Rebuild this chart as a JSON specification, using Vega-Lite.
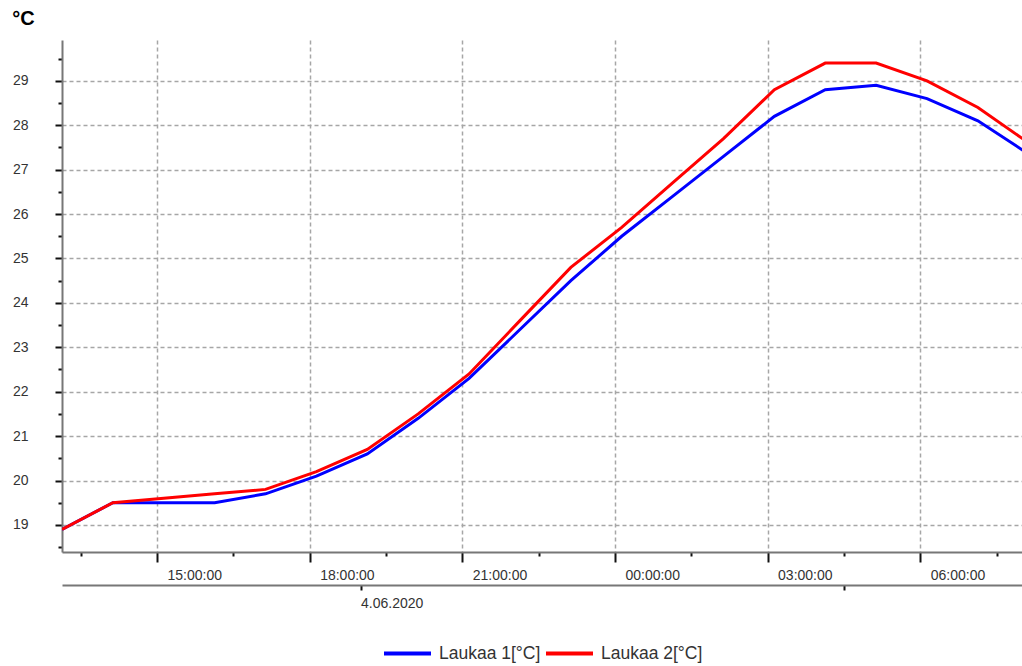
{
  "$schema": "https://vega.github.io/schema/vega-lite/v6.json",
  "width": 960,
  "height": 512,
  "autosize": {"type": "none"},
  "padding": {"left": 62, "top": 40, "right": 0, "bottom": 114},
  "background": "white",
  "config": {
    "view": {"stroke": null},
    "font": "Liberation Sans",
    "axisY": {"tickSize": 32, "labelPadding": 2, "labelAlign": "right"},
    "axisLeft": {"tickSize": 32, "labelPadding": 2, "labelAlign": "right"}
  },
  "data": {"values": [
    {"time": "2020-06-04T13:08:00", "series": "Laukaa 1[°C]", "value": 18.9},
    {"time": "2020-06-04T14:08:00", "series": "Laukaa 1[°C]", "value": 19.5},
    {"time": "2020-06-04T15:08:00", "series": "Laukaa 1[°C]", "value": 19.5},
    {"time": "2020-06-04T16:08:00", "series": "Laukaa 1[°C]", "value": 19.5},
    {"time": "2020-06-04T17:08:00", "series": "Laukaa 1[°C]", "value": 19.7},
    {"time": "2020-06-04T18:08:00", "series": "Laukaa 1[°C]", "value": 20.1},
    {"time": "2020-06-04T19:08:00", "series": "Laukaa 1[°C]", "value": 20.6},
    {"time": "2020-06-04T20:08:00", "series": "Laukaa 1[°C]", "value": 21.4},
    {"time": "2020-06-04T21:08:00", "series": "Laukaa 1[°C]", "value": 22.3},
    {"time": "2020-06-04T22:08:00", "series": "Laukaa 1[°C]", "value": 23.4},
    {"time": "2020-06-04T23:08:00", "series": "Laukaa 1[°C]", "value": 24.5},
    {"time": "2020-06-05T00:08:00", "series": "Laukaa 1[°C]", "value": 25.5},
    {"time": "2020-06-05T01:08:00", "series": "Laukaa 1[°C]", "value": 26.4},
    {"time": "2020-06-05T02:08:00", "series": "Laukaa 1[°C]", "value": 27.3},
    {"time": "2020-06-05T03:08:00", "series": "Laukaa 1[°C]", "value": 28.2},
    {"time": "2020-06-05T04:08:00", "series": "Laukaa 1[°C]", "value": 28.8},
    {"time": "2020-06-05T05:08:00", "series": "Laukaa 1[°C]", "value": 28.9},
    {"time": "2020-06-05T06:08:00", "series": "Laukaa 1[°C]", "value": 28.6},
    {"time": "2020-06-05T07:08:00", "series": "Laukaa 1[°C]", "value": 28.1},
    {"time": "2020-06-05T08:08:00", "series": "Laukaa 1[°C]", "value": 27.35},
    {"time": "2020-06-04T13:08:00", "series": "Laukaa 2[°C]", "value": 18.9},
    {"time": "2020-06-04T14:08:00", "series": "Laukaa 2[°C]", "value": 19.5},
    {"time": "2020-06-04T15:08:00", "series": "Laukaa 2[°C]", "value": 19.6},
    {"time": "2020-06-04T16:08:00", "series": "Laukaa 2[°C]", "value": 19.7},
    {"time": "2020-06-04T17:08:00", "series": "Laukaa 2[°C]", "value": 19.8},
    {"time": "2020-06-04T18:08:00", "series": "Laukaa 2[°C]", "value": 20.2},
    {"time": "2020-06-04T19:08:00", "series": "Laukaa 2[°C]", "value": 20.7},
    {"time": "2020-06-04T20:08:00", "series": "Laukaa 2[°C]", "value": 21.5},
    {"time": "2020-06-04T21:08:00", "series": "Laukaa 2[°C]", "value": 22.4},
    {"time": "2020-06-04T22:08:00", "series": "Laukaa 2[°C]", "value": 23.6},
    {"time": "2020-06-04T23:08:00", "series": "Laukaa 2[°C]", "value": 24.8},
    {"time": "2020-06-05T00:08:00", "series": "Laukaa 2[°C]", "value": 25.7},
    {"time": "2020-06-05T01:08:00", "series": "Laukaa 2[°C]", "value": 26.7},
    {"time": "2020-06-05T02:08:00", "series": "Laukaa 2[°C]", "value": 27.7},
    {"time": "2020-06-05T03:08:00", "series": "Laukaa 2[°C]", "value": 28.8},
    {"time": "2020-06-05T04:08:00", "series": "Laukaa 2[°C]", "value": 29.4},
    {"time": "2020-06-05T05:08:00", "series": "Laukaa 2[°C]", "value": 29.4},
    {"time": "2020-06-05T06:08:00", "series": "Laukaa 2[°C]", "value": 29.0},
    {"time": "2020-06-05T07:08:00", "series": "Laukaa 2[°C]", "value": 28.4},
    {"time": "2020-06-05T08:08:00", "series": "Laukaa 2[°C]", "value": 27.6}
  ]},
  "layer": [
    {
      "mark": {"type": "line", "strokeWidth": 3, "clip": true},
      "encoding": {
        "x": {
          "field": "time", "type": "temporal",
          "scale": {"domain": [
            {"year": 2020, "month": 6, "date": 4, "hours": 13, "minutes": 8},
            {"year": 2020, "month": 6, "date": 5, "hours": 8, "minutes": 0}
          ]},
          "axis": {
            "values": [
              {"year": 2020, "month": 6, "date": 4, "hours": 13, "minutes": 30},
              {"year": 2020, "month": 6, "date": 4, "hours": 15, "minutes": 0},
              {"year": 2020, "month": 6, "date": 4, "hours": 16, "minutes": 30},
              {"year": 2020, "month": 6, "date": 4, "hours": 18, "minutes": 0},
              {"year": 2020, "month": 6, "date": 4, "hours": 19, "minutes": 30},
              {"year": 2020, "month": 6, "date": 4, "hours": 21, "minutes": 0},
              {"year": 2020, "month": 6, "date": 4, "hours": 22, "minutes": 30},
              {"year": 2020, "month": 6, "date": 5, "hours": 0, "minutes": 0},
              {"year": 2020, "month": 6, "date": 5, "hours": 1, "minutes": 30},
              {"year": 2020, "month": 6, "date": 5, "hours": 3, "minutes": 0},
              {"year": 2020, "month": 6, "date": 5, "hours": 4, "minutes": 30},
              {"year": 2020, "month": 6, "date": 5, "hours": 6, "minutes": 0},
              {"year": 2020, "month": 6, "date": 5, "hours": 7, "minutes": 30}
            ],
            "labelExpr": "minutes(datum.value) == 0 ? timeFormat(datum.value, '%H:%M:%S') : ''",
            "tickSize": {"condition": {"test": "minutes(datum.value) == 0", "value": 10}, "value": 4},
            "gridOpacity": {"condition": {"test": "minutes(datum.value) == 0", "value": 1}, "value": 0},
            "grid": true,
            "gridDash": [4, 3],
            "gridColor": "#a6a6a6",
            "gridWidth": 1.5,
            "domainColor": "#777777",
            "domainWidth": 2,
            "tickColor": "#111111",
            "tickWidth": 2,
            "labelAlign": "left",
            "labelBaseline": "top",
            "labelOffset": 10,
            "labelPadding": 6,
            "labelFontSize": 14,
            "labelColor": "#333333",
            "labelOverlap": false,
            "labelFlush": false,
            "labelBound": false,
            "title": null
          }
        },
        "y": {
          "field": "value", "type": "quantitative",
          "scale": {"domain": [18.39, 29.92], "nice": false, "zero": false},
          "axis": {
            "values": [18.5, 19, 19.5, 20, 20.5, 21, 21.5, 22, 22.5, 23, 23.5, 24, 24.5, 25, 25.5, 26, 26.5, 27, 27.5, 28, 28.5, 29, 29.5],
            "labelExpr": "datum.value == round(datum.value) ? format(datum.value, 'd') : ''",
            "tickSize": 32,
            "tickDash": {"condition": {"test": "datum.value == round(datum.value)", "value": [7, 100]}, "value": [4, 100]},
            "gridOpacity": {"condition": {"test": "datum.value == round(datum.value)", "value": 1}, "value": 0},
            "grid": true,
            "gridDash": [4, 3],
            "gridColor": "#a6a6a6",
            "gridWidth": 1.5,
            "domainColor": "#777777",
            "domainWidth": 2,
            "tickColor": "#111111",
            "tickWidth": 2,
            "labelAlign": "right",
            "labelPadding": 2,
            "labelFontSize": 14,
            "labelColor": "#333333",
            "labelOverlap": false,
            "labelBound": false,
            "labelFlush": false,
            "title": "°C",
            "titleAngle": 0,
            "titleX": -39,
            "titleY": -22,
            "titleAlign": "center",
            "titleBaseline": "middle",
            "titleFontSize": 20,
            "titleFontWeight": "bold",
            "titleColor": "#000000"
          }
        },
        "color": {
          "field": "series", "type": "nominal",
          "scale": {"domain": ["Laukaa 1[°C]", "Laukaa 2[°C]"], "range": ["#0000ff", "#ff0000"]},
          "legend": {
            "title": null,
            "orient": "none",
            "legendX": 320,
            "legendY": 588,
            "direction": "horizontal",
            "symbolType": "stroke",
            "symbolSize": 2209,
            "symbolStrokeWidth": 4,
            "labelFontSize": 17.5,
            "labelColor": "#333333",
            "labelOffset": 6,
            "columnPadding": -3
          }
        }
      }
    },
    {
      "mark": {"type": "rule", "opacity": 0},
      "encoding": {
        "x": {
          "field": "time", "type": "temporal",
          "scale": {"domain": [
            {"year": 2020, "month": 6, "date": 4, "hours": 13, "minutes": 8},
            {"year": 2020, "month": 6, "date": 5, "hours": 8, "minutes": 0}
          ]},
          "axis": {
            "orient": "bottom",
            "offset": 33,
            "values": [
              {"year": 2020, "month": 6, "date": 4, "hours": 19, "minutes": 0},
              {"year": 2020, "month": 6, "date": 5, "hours": 4, "minutes": 30}
            ],
            "labelExpr": "date(datum.value) == 4 ? '4.06.2020' : ''",
            "grid": false,
            "tickSize": 5,
            "tickColor": "#111111",
            "tickWidth": 2,
            "domainColor": "#777777",
            "domainWidth": 2,
            "labelAlign": "left",
            "labelBaseline": "top",
            "labelPadding": 6,
            "labelFontSize": 14,
            "labelColor": "#333333",
            "labelOverlap": false,
            "labelFlush": false,
            "labelBound": false,
            "title": null
          }
        }
      }
    }
  ],
  "resolve": {"scale": {"x": "independent"}, "axis": {"x": "independent"}}
}
